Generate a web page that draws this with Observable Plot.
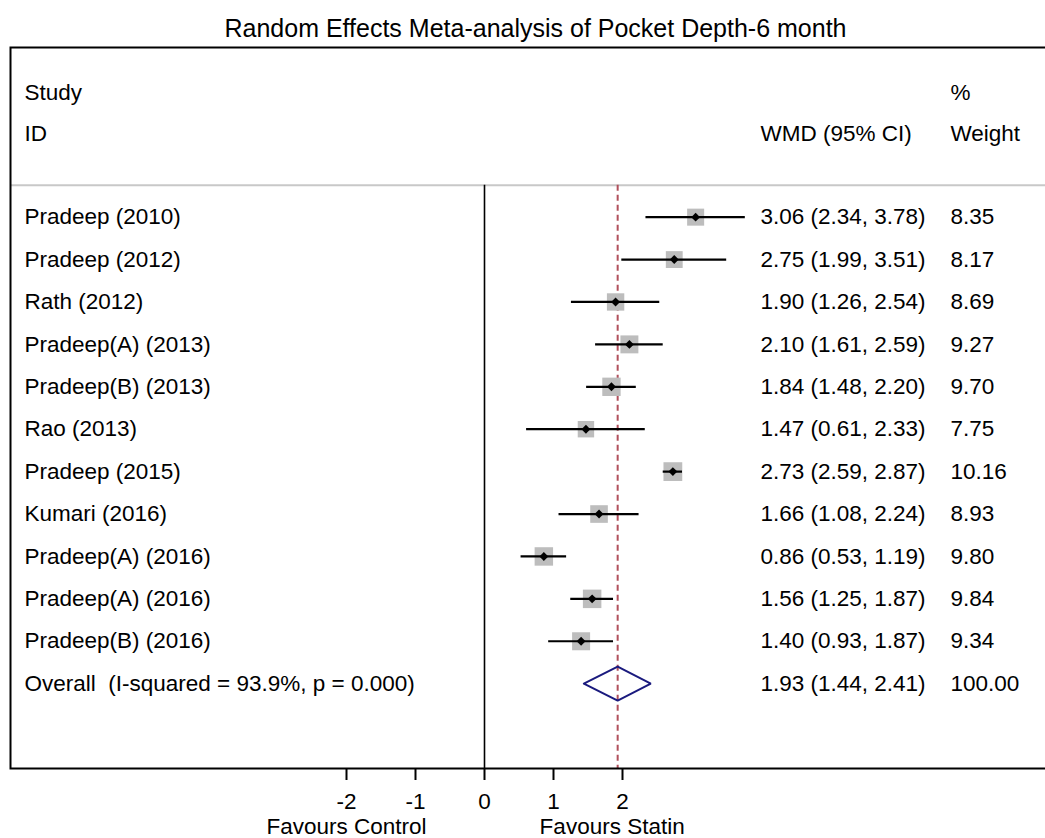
<!DOCTYPE html>
<html>
<head>
<meta charset="utf-8">
<script src="https://cdn.jsdelivr.net/npm/d3@7"></script>
<script src="https://cdn.jsdelivr.net/npm/@observablehq/plot@0.6"></script>
<style>
  body { margin: 0; background: #fff; }
  #chart svg { display: block; }
</style>
</head>
<body>
<div id="chart"></div>
<script>
// ---- data ----
const studyLabels = [
  "Pradeep (2010)", "Pradeep (2012)", "Rath (2012)", "Pradeep(A) (2013)",
  "Pradeep(B) (2013)", "Rao (2013)", "Pradeep (2015)", "Kumari (2016)",
  "Pradeep(A) (2016)", "Pradeep(A) (2016)", "Pradeep(B) (2016)"
];
const wmd    = [3.06, 2.75, 1.90, 2.10, 1.84, 1.47, 2.73, 1.66, 0.86, 1.56, 1.40];
const ciLow  = [2.34, 1.99, 1.26, 1.61, 1.48, 0.61, 2.59, 1.08, 0.53, 1.25, 0.93];
const ciHigh = [3.78, 3.51, 2.54, 2.59, 2.20, 2.33, 2.87, 2.24, 1.19, 1.87, 1.87];
const weights = [8.35, 8.17, 8.69, 9.27, 9.70, 7.75, 10.16, 8.93, 9.80, 9.84, 9.34];

const overallLabel = "Overall\u00a0 (I-squared = 93.9%, p = 0.000)";
const overallWmd = 1.93, overallLow = 1.44, overallHigh = 2.41, overallWeight = 100.00;

const xTicks = [-2, -1, 0, 1, 2];
const titleText = "Random Effects Meta-analysis of Pocket Depth-6 month";
const favourLabels = ["Favours Control", "Favours Statin"];
const headerTop = ["Study", "%"];
const headerBottom = ["ID", "WMD (95% CI)", "Weight"];

// ---- derived table ----
const f2 = v => v.toFixed(2);
const rows = studyLabels.map((label, i) => ({
  label, row: i, est: wmd[i], lo: ciLow[i], hi: ciHigh[i], w: weights[i],
  ci: `${f2(wmd[i])} (${f2(ciLow[i])}, ${f2(ciHigh[i])})`, wt: f2(weights[i])
}));
const overallRow = {
  label: overallLabel, row: rows.length, est: overallWmd, lo: overallLow, hi: overallHigh,
  ci: `${f2(overallWmd)} (${f2(overallLow)}, ${f2(overallHigh)})`, wt: f2(overallWeight)
};
const textRows = [...rows, overallRow];
const dh = 0.4;
const diamond = [
  {x: overallRow.lo, y: overallRow.row},
  {x: overallRow.est, y: overallRow.row - dh},
  {x: overallRow.hi, y: overallRow.row},
  {x: overallRow.est, y: overallRow.row + dh},
  {x: overallRow.lo, y: overallRow.row}
];

// ---- layout ----
const W = 1045, H = 838;
const mL = 10, mR = -3, mT = 47, mB = 70;
const zeroPx = 484, unitPx = 69;
const xDomain = [(mL - zeroPx) / unitPx, (W - mR - zeroPx) / unitPx];
const sepRow = -0.75;
const hdr1 = -2.94, hdr2 = -1.97;
const font = "'Liberation Sans', Arial, Helvetica, sans-serif";
const fs = 22.5;

const plot = Plot.plot({
  width: W, height: H,
  marginLeft: mL, marginRight: mR, marginTop: mT, marginBottom: mB,
  style: {fontFamily: font, fontSize: fs + "px", background: "#fff", color: "#000"},
  x: {domain: xDomain, axis: null},
  y: {domain: [-4, 13], reverse: true, axis: null},
  r: {type: "sqrt", domain: [0, d3.max(weights)], range: [0, 10.6]},
  marks: [
    Plot.ruleY([sepRow], {stroke: "#c8c8c8", strokeWidth: 2}),
    Plot.ruleX([0], {y1: sepRow, y2: 13, stroke: "#000", strokeWidth: 1.6}),
    Plot.ruleX([overallWmd], {y1: sepRow, y2: 13, stroke: "#b0505c", strokeWidth: 2, strokeDasharray: "6,4"}),
    Plot.dot(rows, {x: "est", y: "row", r: "w", symbol: "square", fill: "#bdbdbd", stroke: "none"}),
    Plot.ruleY(rows, {y: "row", x1: "lo", x2: "hi", stroke: "#000", strokeWidth: 2.2}),
    Plot.dot(rows, {x: "est", y: "row", r: 4, symbol: "diamond2", fill: "#000", stroke: "none"}),
    Plot.line(diamond, {x: "x", y: "y", stroke: "#1a1a7e", strokeWidth: 2, strokeLinejoin: "miter"}),
    // row labels and columns
    Plot.text(textRows, {y: "row", text: "label", frameAnchor: "left", dx: 14, textAnchor: "start", lineAnchor: "middle", fontSize: fs, fill: "#000"}),
    Plot.text(textRows, {y: "row", x: 4, text: "ci", textAnchor: "start", lineAnchor: "middle", fontSize: fs, fill: "#000"}),
    Plot.text(textRows, {y: "row", text: "wt", frameAnchor: "right", dx: -98, textAnchor: "start", lineAnchor: "middle", fontSize: fs, fill: "#000"}),
    // headers
    Plot.text([headerTop[0]], {y: hdr1, text: d => d, frameAnchor: "left", dx: 14, textAnchor: "start", lineAnchor: "middle", fontSize: fs}),
    Plot.text([headerTop[1]], {y: hdr1, text: d => d, frameAnchor: "right", dx: -98, textAnchor: "start", lineAnchor: "middle", fontSize: fs}),
    Plot.text([headerBottom[0]], {y: hdr2, text: d => d, frameAnchor: "left", dx: 14, textAnchor: "start", lineAnchor: "middle", fontSize: fs}),
    Plot.text([headerBottom[1]], {y: hdr2, x: 4, text: d => d, textAnchor: "start", lineAnchor: "middle", fontSize: fs}),
    Plot.text([headerBottom[2]], {y: hdr2, text: d => d, frameAnchor: "right", dx: -98, textAnchor: "start", lineAnchor: "middle", fontSize: fs}),
    // frame and axis
    Plot.frame({stroke: "#000", strokeWidth: 2}),
    Plot.axisX(xTicks, {tickSize: 12, tickPadding: 13, strokeWidth: 2, fontSize: fs, tickFormat: d => String(d), label: null}),
    Plot.text([favourLabels[0]], {x: -2, text: d => d, frameAnchor: "bottom", lineAnchor: "middle", dy: 58, fontSize: fs}),
    Plot.text([favourLabels[1]], {x: 1.85, text: d => d, frameAnchor: "bottom", lineAnchor: "middle", dy: 58, fontSize: fs}),
    // title
    Plot.text([titleText], {text: d => d, frameAnchor: "top", lineAnchor: "middle", dx: 6, dy: -19, fontSize: 25})
  ]
});
document.getElementById("chart").appendChild(plot);
</script>
</body>
</html>
